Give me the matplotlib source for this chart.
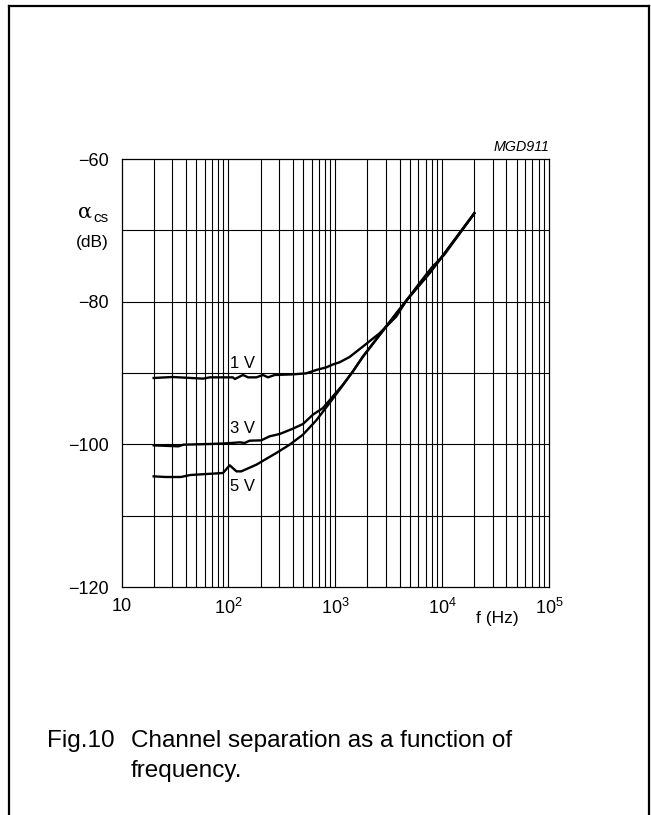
import matplotlib
matplotlib.use("Agg")
import matplotlib.pyplot as plt
from matplotlib.lines import Line2D
import numpy as np

plt.rcParams['font.family'] = ['Liberation Sans', 'DejaVu Sans']
plt.rcParams['mathtext.fontset'] = 'custom'
plt.rcParams['mathtext.rm'] = 'Liberation Sans'
plt.rcParams['mathtext.it'] = 'Liberation Sans:italic'

# ---- data ----
f_1v = [20, 30, 58, 67, 110, 115, 137, 153, 183, 211, 235, 271, 402, 535, 664, 824,
        951, 1097, 1360, 1811, 2594, 3714, 4608, 6000, 8000, 10500, 14500, 20000]
db_1v = [-90.7, -90.56, -90.79, -90.61, -90.61, -90.84, -90.28, -90.61, -90.61, -90.28,
         -90.61, -90.28, -90.19, -90.05, -89.58, -89.21, -88.8, -88.5, -87.76, -86.3,
         -84.44, -82.1, -79.9, -77.6, -75.2, -73.4, -70.5, -67.6]

f_3v = [20, 34, 38, 67, 96, 128, 142, 158, 203, 243, 302, 402, 499, 618, 767, 951,
        1180, 1463, 1811, 2594, 3714, 4941, 7600, 9440, 14500, 20000]
db_3v = [-100.14, -100.28, -100.05, -99.95, -99.86, -99.72, -99.81, -99.49, -99.44,
         -98.88, -98.55, -97.8, -97.15, -95.84, -94.91, -93.27, -91.64, -89.77, -87.7,
         -84.67, -81.64, -79.3, -76.0, -74.16, -70.4, -67.6]

f_5v = [20, 26, 36, 44, 89, 103, 119, 132, 183, 281, 374, 499, 664, 885, 1097, 1463,
        1811, 2594, 3714, 4941, 7600, 9440, 14500, 20000]
db_5v = [-104.49, -104.58, -104.58, -104.3, -104.02, -102.94, -103.79, -103.79, -102.85,
         -101.21, -100.05, -98.64, -96.64, -94.21, -92.34, -89.77, -87.75, -84.72, -81.7,
         -79.35, -76.05, -74.2, -70.45, -67.65]

curve_labels = ["1 V", "3 V", "5 V"]
label_pos_f = [103, 103, 103]
label_pos_db = [-88.6, -97.8, -105.9]

x_ticks = [10, 100, 1000, 10000, 100000]
x_ticklabels = ["10", "$10^{2}$", "$10^{3}$", "$10^{4}$", "$10^{5}$"]
y_ticks = [-60, -80, -100, -120]
y_ticklabels = ["\u221260", "\u221280", "\u2212100", "\u2212120"]

# ---- figure ----
W, H = 651, 815
fig = plt.figure(figsize=(W / 100, H / 100), dpi=100)

# frame (open at bottom)
frame_kw = dict(color='black', lw=1.6, transform=fig.transFigure, solid_capstyle='projecting')
fig.add_artist(Line2D([9 / W, 9 / W], [0, 1 - 6 / H], **frame_kw))
fig.add_artist(Line2D([9 / W, 649 / W], [1 - 6 / H, 1 - 6 / H], **frame_kw))
fig.add_artist(Line2D([649 / W, 649 / W], [0, 1 - 6 / H], **frame_kw))

left, right, top, bottom = 121.5, 549, 159, 587
ax = fig.add_axes([left / W, 1 - bottom / H, (right - left) / W, (bottom - top) / H])
ax.set_xscale('log')
ax.set_xlim(10, 1e5)
ax.set_ylim(-120, -60)

# grid
for dec in [10, 100, 1000, 10000]:
    for m in range(1, 10):
        v = dec * m
        if 10 < v < 1e5:
            ax.axvline(v, color='black', lw=0.8, zorder=1)
for v in range(-110, -60, 10):
    ax.axhline(v, color='black', lw=0.8, zorder=1)
for s in ax.spines.values():
    s.set_linewidth(0.9)

ax.plot(f_1v, db_1v, color='black', lw=1.7, zorder=3, solid_joinstyle='round')
ax.plot(f_3v, db_3v, color='black', lw=1.7, zorder=3, solid_joinstyle='round')
ax.plot(f_5v, db_5v, color='black', lw=1.7, zorder=3, solid_joinstyle='round')

for lab, fx, dy in zip(curve_labels, label_pos_f, label_pos_db):
    ax.text(fx, dy, lab, fontsize=12, ha='left', va='center', zorder=4)

ax.set_xticks(x_ticks)
ax.set_xticklabels(x_ticklabels)
ax.xaxis.set_minor_locator(matplotlib.ticker.NullLocator())
ax.set_yticks(y_ticks)
ax.set_yticklabels(y_ticklabels)
ax.tick_params(axis='both', length=0, labelsize=13)
ax.tick_params(axis='x', pad=8)
ax.tick_params(axis='y', pad=9)

# axis labels
fig.text(85 / W, 1 - 212 / H, "\u03b1", fontsize=15, ha='center', va='center',
         family=['DejaVu Serif'])
fig.text(93 / W, 1 - 218 / H, "cs", fontsize=11, ha='left', va='center')
fig.text(92 / W, 1 - 243 / H, "(dB)", fontsize=12.5, ha='center', va='center')
fig.text(497 / W, 1 - 619 / H, "f (Hz)", fontsize=12.5, ha='center', va='center')
fig.text(549 / W, 1 - 147 / H, "MGD911", fontsize=10.3, ha='right', va='center', style='italic')

# caption
cap_fs = 17.5
fig.text(47 / W, 1 - 747 / H, "Fig.10", fontsize=cap_fs, ha='left', va='baseline')
fig.text(131 / W, 1 - 747 / H, "Channel separation as a function of", fontsize=cap_fs,
         ha='left', va='baseline')
fig.text(131 / W, 1 - 777 / H, "frequency.", fontsize=cap_fs, ha='left', va='baseline')

fig.savefig("out.png", dpi=100)
